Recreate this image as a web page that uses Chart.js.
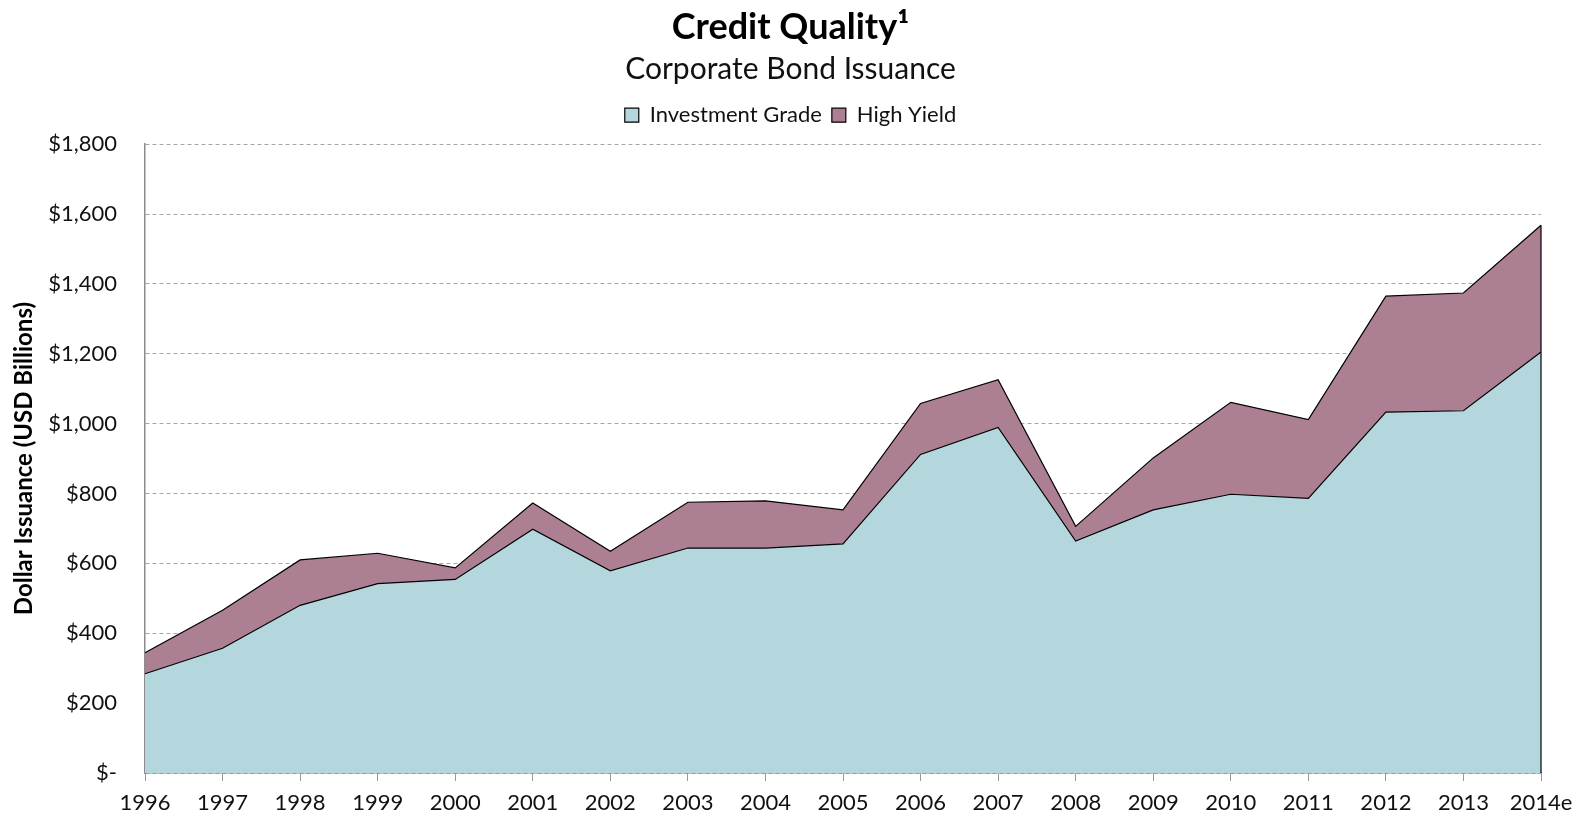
<!DOCTYPE html>
<html>
<head>
<meta charset="utf-8">
<title>Credit Quality</title>
<script src="https://cdn.jsdelivr.net/npm/chart.js@4.4.1/dist/chart.umd.min.js"></script>
<style>
    html, body { margin: 0; padding: 0; background: #ffffff; }
    #wrap { width: 1581px; height: 815px; position: relative; }
</style>
</head>
<body>
<div id="wrap"><canvas id="creditChart"></canvas></div>
<script>
// Corporate bond issuance, USD billions
const years = ['1996', '1997', '1998', '1999', '2000', '2001', '2002', '2003', '2004', '2005',
               '2006', '2007', '2008', '2009', '2010', '2011', '2012', '2013', '2014e'];
const investmentGrade = [284, 357, 480, 542, 554, 698, 579, 644, 644, 656,
                         912, 989, 664, 753, 798, 786, 1033, 1037, 1205];
const highYield = [60, 109, 130, 87, 33, 75, 56, 131, 135, 97,
                   146, 137, 42, 149, 263, 226, 332, 337, 363];
const yTicks = [0, 200, 400, 600, 800, 1000, 1200, 1400, 1600, 1800];

const FONT = 'Lato, "Open Sans", sans-serif';

/**
 * Give the legend a little more room below it
 */
const legendSpacing = {
    id: 'legendSpacing',
    beforeInit(chart) {
        const fitLegend = chart.legend.fit;
        chart.legend.fit = function() {
            fitLegend.bind(chart.legend)();
            this.height += 8;
        };
    }
};

/**
 * Close the stacked area on its right edge, as the original does
 */
const rightEdge = {
    id: 'rightEdge',
    afterDatasetsDraw(chart) {
        const meta = chart.getDatasetMeta(chart.data.datasets.length - 1);
        const last = meta.data[meta.data.length - 1];
        if (!last) return;
        const ctx = chart.ctx;
        ctx.save();
        ctx.strokeStyle = '#000000';
        ctx.lineWidth = 1.2;
        ctx.beginPath();
        ctx.moveTo(last.x, last.y);
        ctx.lineTo(last.x, chart.scales.y.getPixelForValue(0));
        ctx.stroke();
        ctx.restore();
    }
};

function formatDollar(value) {
    if (value === 0) return '$-';
    return '$' + value.toLocaleString('en-US');
}

const ctx = document.getElementById('creditChart');

new Chart(ctx, {
    type: 'line',
    data: {
        labels: years,
        datasets: [{
            label: 'Investment Grade',
            data: investmentGrade,
            backgroundColor: '#b4d7dd',
            borderColor: '#000000',
            borderWidth: 1.2,
            fill: 'origin',
            pointRadius: 0,
            tension: 0
        }, {
            label: 'High Yield',
            data: highYield,
            backgroundColor: '#ad7f93',
            borderColor: '#000000',
            borderWidth: 1.2,
            fill: '-1',
            pointRadius: 0,
            tension: 0
        }]
    },
    options: {
        responsive: true,
        maintainAspectRatio: false,
        animation: false,
        layout: {
            padding: 0
        },
        plugins: {
            title: {
                display: true,
                text: 'Credit Quality¹',
                color: '#000000',
                font: { family: FONT, size: 36, weight: 'bold', lineHeight: 1.2 },
                padding: { top: 6, bottom: 0 }
            },
            subtitle: {
                display: true,
                text: 'Corporate Bond Issuance',
                color: '#111111',
                font: { family: FONT, size: 30, weight: 'normal', lineHeight: 1.2 },
                padding: { top: 2, bottom: 7 }
            },
            legend: {
                position: 'top',
                labels: {
                    boxWidth: 14,
                    boxHeight: 14,
                    color: '#111111',
                    padding: 10,
                    font: { family: FONT, size: 22 }
                }
            },
            tooltip: { enabled: false }
        },
        scales: {
            x: {
                type: 'category',
                offset: false,
                afterFit(scale) {
                    scale.height = 42;
                    scale.paddingLeft = 0;
                    scale.paddingRight = 40;
                },
                grid: {
                    drawOnChartArea: false,
                    drawTicks: true,
                    tickLength: 8,
                    color: '#999999'
                },
                border: { display: true, color: '#8c8c8c', width: 1.5 },
                ticks: {
                    color: '#111111',
                    padding: 9,
                    maxRotation: 0,
                    autoSkip: false,
                    font: { family: FONT, size: 22 }
                }
            },
            y: {
                stacked: true,
                min: 0,
                max: 1800,
                afterBuildTicks(scale) {
                    scale.ticks = yTicks.map(v => ({ value: v }));
                },
                afterFit(scale) {
                    scale.width = 145;
                },
                grid: {
                    drawTicks: false,
                    color: '#a6a6a6',
                    lineWidth: 1
                },
                border: { display: true, color: '#8c8c8c', width: 1.5, dash: [4, 3] },
                ticks: {
                    color: '#111111',
                    padding: 28,
                    font: { family: FONT, size: 22 },
                    callback: value => formatDollar(value)
                },
                title: {
                    display: true,
                    text: 'Dollar Issuance (USD Billions)',
                    color: '#000000',
                    font: { family: FONT, size: 24, weight: 'bold', lineHeight: 1.2 },
                    padding: { top: 10, bottom: 0 }
                }
            }
        }
    },
    plugins: [legendSpacing, rightEdge]
});
</script>
</body>
</html>
